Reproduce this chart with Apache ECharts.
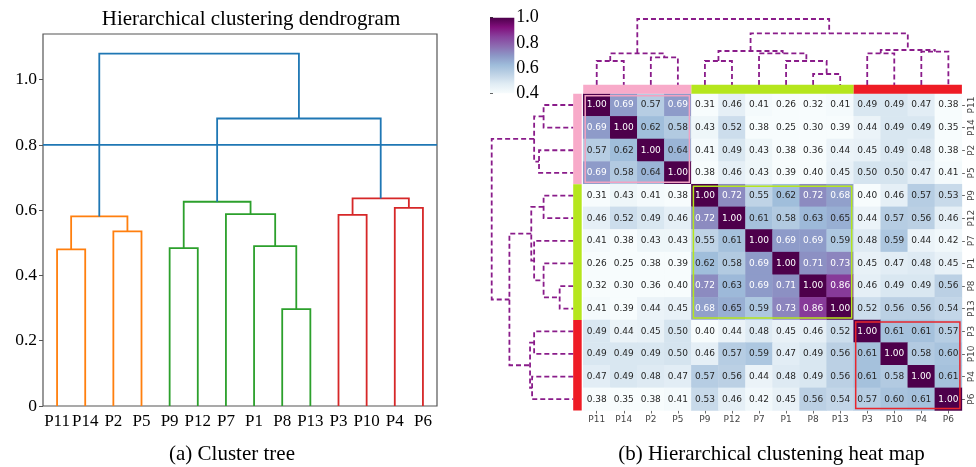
<!DOCTYPE html>
<html>
<head>
<meta charset="utf-8">
<script src="https://cdn.jsdelivr.net/npm/echarts@6/dist/echarts.min.js"></script>
<style>html,body{margin:0;padding:0;background:#fff}#c{width:976px;height:467px}</style>
</head>
<body>
<div id="c"></div>
<script>
// ---------- data ----------
const leaves = ['P11','P14','P2','P5','P9','P12','P7','P1','P8','P13','P3','P10','P4','P6'];
// merges in order: node ids 0-13 are leaves (display order), 14+ are merges
const mergePairs = [[0,1],[2,3],[14,15],[4,5],[8,9],[7,18],[6,19],[17,20],[10,11],[12,13],[22,23],[21,24],[16,25]];
const treeHeights = [0.48,0.535,0.581,0.484,0.297,0.490,0.588,0.626,0.586,0.607,0.636,0.881,1.080];
const treeColorIdx = [1,1,1,2,2,2,2,2,3,3,3,0,0];
const heatTreeHeights = [0.364,0.42,0.48,0.364,0.167,0.364,0.48,0.515,0.48,0.505,0.53,0.783,1.0];
const cutHeight = 0.8;
const yTicks = [0,0.2,0.4,0.6,0.8,1.0];
const cbTicks = [0.4,0.6,0.8,1.0];
const sim = [
 [1.00,0.69,0.57,0.69,0.31,0.46,0.41,0.26,0.32,0.41,0.49,0.49,0.47,0.38],
 [0.69,1.00,0.62,0.58,0.43,0.52,0.38,0.25,0.30,0.39,0.44,0.49,0.49,0.35],
 [0.57,0.62,1.00,0.64,0.41,0.49,0.43,0.38,0.36,0.44,0.45,0.49,0.48,0.38],
 [0.69,0.58,0.64,1.00,0.38,0.46,0.43,0.39,0.40,0.45,0.50,0.50,0.47,0.41],
 [0.31,0.43,0.41,0.38,1.00,0.72,0.55,0.62,0.72,0.68,0.40,0.46,0.57,0.53],
 [0.46,0.52,0.49,0.46,0.72,1.00,0.61,0.58,0.63,0.65,0.44,0.57,0.56,0.46],
 [0.41,0.38,0.43,0.43,0.55,0.61,1.00,0.69,0.69,0.59,0.48,0.59,0.44,0.42],
 [0.26,0.25,0.38,0.39,0.62,0.58,0.69,1.00,0.71,0.73,0.45,0.47,0.48,0.45],
 [0.32,0.30,0.36,0.40,0.72,0.63,0.69,0.71,1.00,0.86,0.46,0.49,0.49,0.56],
 [0.41,0.39,0.44,0.45,0.68,0.65,0.59,0.73,0.86,1.00,0.52,0.56,0.56,0.54],
 [0.49,0.44,0.45,0.50,0.40,0.44,0.48,0.45,0.46,0.52,1.00,0.61,0.61,0.57],
 [0.49,0.49,0.49,0.50,0.46,0.57,0.59,0.47,0.49,0.56,0.61,1.00,0.58,0.60],
 [0.47,0.49,0.48,0.47,0.57,0.56,0.44,0.48,0.49,0.56,0.61,0.58,1.00,0.61],
 [0.38,0.35,0.38,0.41,0.53,0.46,0.42,0.45,0.56,0.54,0.57,0.60,0.61,1.00]
];
const clusters = [[0,3,0],[4,9,1],[10,13,2]];

// ---------- styles ----------
const treeColors = ['#1f77b4','#ff7f0e','#2ca02c','#d62728'];
const stripColors = ['#f8aac9','#b5e61d','#ee1c25'];
const boxColors = ['#f2a2c2','#b5e61d','#e8262d'];
const BuPu = ['#f7fcfd','#e0ecf4','#bfd3e6','#9ebcda','#8c96c6','#8c6bb1','#88419d','#810f7c','#4d004b'];
const dendroPurple = '#8a1c8a';
const serif = 'Liberation Serif, Times New Roman, serif';
const sans = 'DejaVu Sans, sans-serif';

function buildLinks(heights){
  const pos = leaves.map((_, i) => i * 10 + 5), h = leaves.map(() => 0);
  const out = [];
  mergePairs.forEach(([a, b], k) => {
    out.push([pos[a], h[a], pos[b], h[b], heights[k], k]);
    pos.push((pos[a] + pos[b]) / 2); h.push(heights[k]);
  });
  return out;
}
const treeLinks = buildLinks(treeHeights);
const heatLinks = buildLinks(heatTreeHeights);

const heatData = [];
sim.forEach((row, r) => row.forEach((v, c) => heatData.push([c, r, Math.max(v, 0.4), v])));

const chart = echarts.init(document.getElementById('c'));

function uRender(colorFn, width, dash, swap){
  return function(params, api){
    const x1 = api.value(0), y1 = api.value(1), x2 = api.value(2), y2 = api.value(3), h = api.value(4), k = api.value(5);
    const P = (x, y) => swap ? api.coord([y, x]) : api.coord([x, y]);
    return {
      type: 'polyline',
      shape: { points: [P(x1, y1), P(x1, h), P(x2, h), P(x2, y2)] },
      style: { stroke: colorFn(k), lineWidth: width, fill: null, lineDash: dash },
      silent: true
    };
  };
}

const option = {
  animation: false,
  title: [
    { text: 'Hierarchical clustering dendrogram', left: 246, top: 4, textAlign: 'center',
      textStyle: { fontFamily: serif, fontSize: 21, fontWeight: 'normal', color: '#000' } },
    { text: '(a) Cluster tree', left: 227, top: 439, textAlign: 'center',
      textStyle: { fontFamily: serif, fontSize: 21, fontWeight: 'normal', color: '#000' } },
    { text: '(b) Hierarchical clustening heat map', left: 766.5, top: 439, textAlign: 'center',
      textStyle: { fontFamily: serif, fontSize: 21, fontWeight: 'normal', color: '#000' } }
  ],
  grid: [
    { left: 43, top: 34, width: 394, height: 372, show: true, borderColor: '#555', borderWidth: 1.2, backgroundColor: 'transparent' },
    { left: 583.2, top: 19, width: 378.7, height: 66 },
    { left: 491.7, top: 93.7, width: 81.6, height: 316.8 },
    { left: 583.2, top: 93.7, width: 378.7, height: 316.8 },
    { left: 490, top: 17.7, width: 24.3, height: 75.6 }
  ],
  xAxis: [
    { gridIndex: 0, type: 'value', min: 0, max: 140, show: false },
    { gridIndex: 0, type: 'category', data: leaves, position: 'bottom', boundaryGap: true,
      axisLine: { show: false }, axisTick: { show: false },
      axisLabel: { fontFamily: serif, fontSize: 17, color: '#000', margin: 7, interval: 0 } },
    { gridIndex: 1, type: 'value', min: 0, max: 140, show: false },
    { gridIndex: 2, type: 'value', min: 0, max: 1, inverse: true, show: false },
    { gridIndex: 3, type: 'category', data: leaves, position: 'bottom',
      axisLine: { show: false }, splitLine: { show: false },
      axisTick: { show: true, length: 3, alignWithLabel: true, lineStyle: { color: '#444', width: 0.8 } },
      axisLabel: { fontFamily: sans, fontSize: 9, color: '#444', margin: 5, interval: 0 } },
    { gridIndex: 4, type: 'value', min: 0, max: 1, show: false }
  ],
  yAxis: [
    { gridIndex: 0, type: 'value', min: 0, max: 1.14,
      axisLine: { show: false }, splitLine: { show: false },
      axisTick: { show: true, length: 4, customValues: yTicks, lineStyle: { color: '#555' } },
      axisLabel: { fontFamily: serif, fontSize: 17.5, color: '#000', margin: 6, customValues: yTicks,
        formatter: v => v === 0 ? '0' : v.toFixed(1) } },
    { gridIndex: 1, type: 'value', min: 0, max: 1, show: false },
    { gridIndex: 2, type: 'value', min: 0, max: 140, inverse: true, show: false },
    { gridIndex: 3, type: 'category', data: leaves, inverse: true, position: 'right',
      axisLine: { show: false }, splitLine: { show: false },
      axisTick: { show: true, length: 3, alignWithLabel: true, lineStyle: { color: '#444', width: 0.8 } },
      axisLabel: { fontFamily: sans, fontSize: 9, color: '#444', margin: 5, interval: 0, rotate: 90 } },
    { gridIndex: 4, type: 'value', min: 0.4, max: 1.0, position: 'right',
      axisLine: { show: false }, splitLine: { show: false },
      axisTick: { show: true, length: 3, customValues: cbTicks, lineStyle: { color: '#333' } },
      axisLabel: { fontFamily: serif, fontSize: 18, color: '#000', margin: 2, customValues: cbTicks,
        formatter: v => v.toFixed(1) } }
  ],
  visualMap: {
    type: 'continuous', show: false, min: 0.4, max: 1.0, dimension: 2, seriesIndex: 4,
    inRange: { color: BuPu }
  },
  series: [
    // 0 cluster tree
    { type: 'custom', xAxisIndex: 0, yAxisIndex: 0, data: treeLinks,
      renderItem: uRender(k => treeColors[treeColorIdx[k]], 1.8, null, false), z: 3 },
    // 1 cut line
    { type: 'line', xAxisIndex: 0, yAxisIndex: 0, data: [[0, cutHeight], [140, cutHeight]],
      symbol: 'none', lineStyle: { color: treeColors[0], width: 1.8 }, z: 2, silent: true },
    // 2 top dendrogram
    { type: 'custom', xAxisIndex: 2, yAxisIndex: 1, data: heatLinks, clip: false,
      renderItem: uRender(() => dendroPurple, 1.8, [5, 3], false) },
    // 3 left dendrogram
    { type: 'custom', xAxisIndex: 3, yAxisIndex: 2, data: heatLinks, clip: false,
      renderItem: uRender(() => dendroPurple, 1.8, [5, 3], true) },
    // 4 heatmap
    { type: 'heatmap', xAxisIndex: 4, yAxisIndex: 3, data: heatData,
      label: { show: true, fontFamily: sans, fontSize: 9,
        formatter: p => (p.data[3] >= 0.665 ? '{w|' : '{d|') + p.data[3].toFixed(2) + '}',
        rich: { w: { color: '#fff', fontFamily: sans, fontSize: 9 }, d: { color: '#262626', fontFamily: sans, fontSize: 9 } } },
      itemStyle: { borderWidth: 0 }, emphasis: { disabled: true } },
    // 5 cluster strips and boxes
    { type: 'custom', xAxisIndex: 4, yAxisIndex: 3, data: clusters, clip: false, z: 5,
      renderItem: function(params, api){
        const s = api.value(0), e = api.value(1), ci = api.value(2);
        const a = api.coord([s, s]), b = api.coord([e, e]), sz = api.size([1, 1]);
        const x0 = a[0] - sz[0] / 2, y0 = a[1] - sz[1] / 2, x1 = b[0] + sz[0] / 2, y1 = b[1] + sz[1] / 2;
        const g = params.coordSys;
        return { type: 'group', silent: true, children: [
          { type: 'rect', shape: { x: x0, y: g.y - 9, width: x1 - x0, height: 9 }, style: { fill: stripColors[ci] } },
          { type: 'rect', shape: { x: g.x - 10, y: y0, width: 8.5, height: y1 - y0 }, style: { fill: stripColors[ci] } },
          { type: 'rect', shape: { x: x0 + 2, y: y0 + 2, width: x1 - x0 - 4, height: y1 - y0 - 4 },
            style: { fill: null, stroke: boxColors[ci], lineWidth: 1.5 } }
        ] };
      } },
    // 6 colorbar
    { type: 'custom', xAxisIndex: 5, yAxisIndex: 4, data: [[0, 0.4, 1, 1.0]], clip: false,
      renderItem: function(params, api){
        const p0 = api.coord([api.value(0), api.value(1)]), p1 = api.coord([api.value(2), api.value(3)]);
        const stops = BuPu.map((c, i) => ({ offset: 1 - i / (BuPu.length - 1), color: c }));
        return { type: 'rect', silent: true,
          shape: { x: p0[0], y: p1[1], width: p1[0] - p0[0], height: p0[1] - p1[1] },
          style: { fill: new echarts.graphic.LinearGradient(0, 0, 0, 1, stops.reverse()) } };
      } }
  ]
};
chart.setOption(option);
</script>
</body>
</html>
